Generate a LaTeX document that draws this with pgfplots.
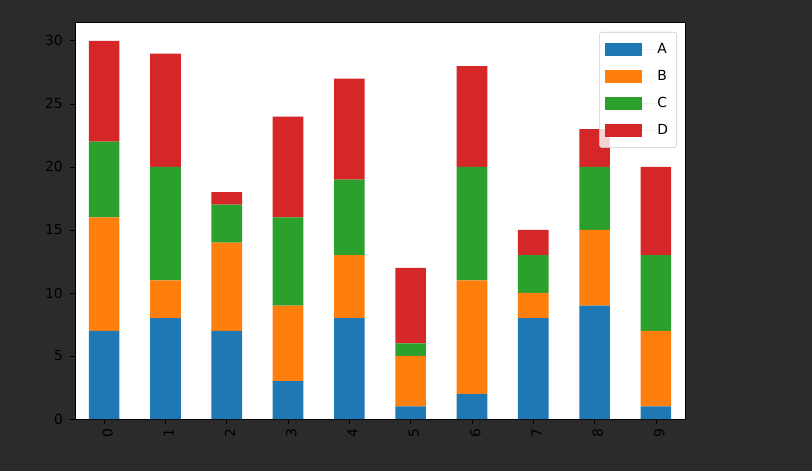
\documentclass[border=0pt]{standalone}
\usepackage{pgfplots}
\pgfplotsset{compat=1.18}
\usepackage{fontspec}
\setmainfont{DejaVu Sans}
\definecolor{bg}{HTML}{2B2B2B}
\definecolor{cA}{HTML}{1F77B4}
\definecolor{cB}{HTML}{FF7F0E}
\definecolor{cC}{HTML}{2CA02C}
\definecolor{cD}{HTML}{D62728}
\begin{document}
\begin{tikzpicture}
\fill[bg] (0pt,0pt) rectangle (609pt,353.25pt);
\begin{axis}[
  at={(56.25pt,39pt)}, anchor=south west,
  scale only axis, width=457.5pt, height=297.75pt,
  xmin=-0.475, xmax=9.475, ymin=0, ymax=31.5,
  ybar stacked, bar width=0.5,
  xtick={0,...,9}, ytick={0,5,...,30},
  x tick label style={rotate=90, anchor=east, yshift=-2.5pt},
  y tick label style={xshift=-2pt},
  tick label style={font=\fontsize{10.4}{12}\selectfont, text=black},
  /pgf/number format/assume math mode=true,
  tick align=outside, tick pos=left,
  major tick length=3.6pt,
  tick style={black, line width=0.6pt},
  axis line style={black, line width=0.6pt},
  axis background/.style={fill=white},
  every axis plot/.append style={draw=none},
  legend cell align=left,
  legend style={at={(1,1)}, anchor=north east, xshift=-6pt, yshift=-7.5pt,
    draw=black!20, rounded corners=2pt, fill=white, fill opacity=0.8, text opacity=1,
    font=\fontsize{10.4}{12}\selectfont, row sep=7pt, inner xsep=4.5pt, inner ysep=6.5pt},
  legend image code/.code={\fill[#1, sharp corners, fill opacity=1] (0pt,-4.9pt) rectangle (27.5pt,4.9pt);
     \path (0pt,0pt) -- (37pt,0pt);},
]
\addplot[fill=cA] coordinates {(0,7) (1,8) (2,7) (3,3) (4,8) (5,1) (6,2) (7,8) (8,9) (9,1)};
\addplot[fill=cB] coordinates {(0,9) (1,3) (2,7) (3,6) (4,5) (5,4) (6,9) (7,2) (8,6) (9,6)};
\addplot[fill=cC] coordinates {(0,6) (1,9) (2,3) (3,7) (4,6) (5,1) (6,9) (7,3) (8,5) (9,6)};
\addplot[fill=cD] coordinates {(0,8) (1,9) (2,1) (3,8) (4,8) (5,6) (6,8) (7,2) (8,3) (9,7)};
\legend{A,B,C,D}
\end{axis}
\end{tikzpicture}
\end{document}
